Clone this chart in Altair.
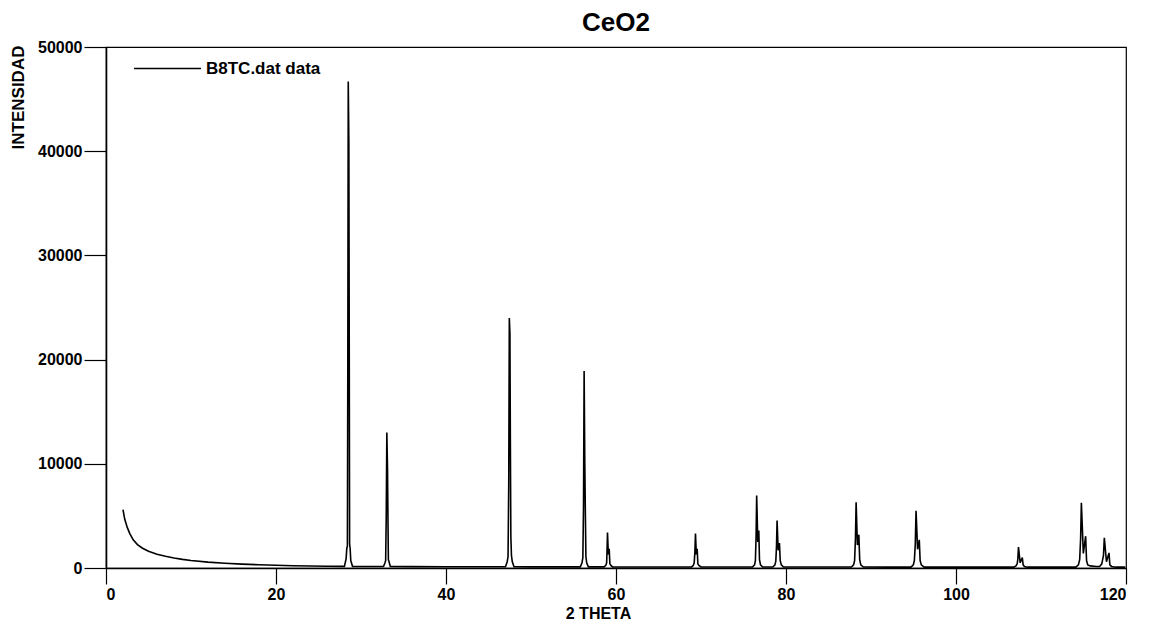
import altair as alt
import pandas as pd

# ---- data ----
two_theta = [
    2.0, 2.2, 2.5, 2.8, 3.2, 3.7, 4.3, 5.0, 6.0, 7.0, 8.0, 9.0, 10.0, 12.0, 14.0,
    16.0, 18.0, 20.0, 22.0, 24.0, 26.0, 27.8,
    28.05, 28.25, 28.33, 28.40, 28.45, 28.50, 28.57, 28.62, 28.66, 28.72, 28.80, 29.00,
    30.0, 32.6,
    32.65, 32.82, 32.90, 32.97, 33.04, 33.12, 33.18, 33.22, 33.30, 33.45,
    36.0, 40.0, 45.0, 46.9,
    47.00, 47.20, 47.30, 47.38, 47.45, 47.52, 47.57, 47.63, 47.70, 47.80, 48.00,
    50.0, 54.0,
    55.80, 56.00, 56.10, 56.18, 56.25, 56.33, 56.40, 56.46, 56.55, 56.75,
    58.60, 58.80, 58.90, 58.95, 59.00, 59.10, 59.20, 59.28, 59.40, 59.60,
    62.0, 66.0,
    68.90, 69.10, 69.20, 69.28, 69.35, 69.45, 69.55, 69.63, 69.75, 70.00,
    73.0,
    76.05, 76.30, 76.40, 76.48, 76.55, 76.68, 76.80, 76.88, 77.00, 77.25,
    78.45, 78.70, 78.80, 78.88, 78.95, 79.08, 79.23, 79.32, 79.45, 79.70,
    82.0, 86.0,
    87.70, 87.95, 88.07, 88.17, 88.25, 88.40, 88.57, 88.67, 88.80, 89.10,
    92.0,
    94.70, 94.98, 95.10, 95.21, 95.30, 95.48, 95.68, 95.78, 95.92, 96.25,
    100.0, 104.0,
    106.80, 107.05, 107.20, 107.28, 107.35, 107.55, 107.80, 107.90, 108.05, 108.40,
    111.0,
    114.10, 114.40, 114.55, 114.66, 114.75, 114.98, 115.25, 115.36, 115.50, 115.80,
    116.50,
    116.90, 117.15, 117.35, 117.45, 117.70, 118.00, 118.10, 118.30, 118.80,
    119.9,
]
intensity = [
    5600, 4700, 3900, 3300, 2700, 2250, 1900, 1600, 1320, 1120, 960, 830, 720, 560, 450,
    370, 310, 260, 220, 190, 170, 160,
    160, 900, 1900, 2100, 20000, 46700, 41000, 20000, 2300, 1900, 700, 160,
    150, 140,
    145, 500, 700, 5000, 13000, 9500, 4000, 800, 600, 150,
    130, 120, 115, 115,
    120, 600, 1100, 8000, 24000, 22500, 12500, 3000, 1200, 600, 120,
    110, 110,
    110, 500, 1000, 6000, 18900, 10000, 5000, 1100, 500, 110,
    105, 250, 500, 1800, 3400, 1300, 1850, 400, 250, 105,
    100, 100,
    100, 250, 500, 1500, 3300, 1300, 1850, 400, 250, 100,
    95,
    95, 300, 700, 3000, 6950, 2500, 3600, 800, 300, 95,
    95, 300, 650, 2000, 4550, 1700, 2400, 700, 300, 95,
    90, 90,
    90, 300, 700, 2800, 6300, 2200, 3200, 800, 300, 90,
    85,
    85, 300, 700, 2300, 5500, 1800, 2700, 700, 300, 85,
    80, 80,
    80, 200, 400, 900, 2000, 500, 1000, 300, 150, 80,
    80,
    80, 300, 800, 2800, 6250, 1400, 3050, 700, 300, 200,
    150,
    150, 400, 1200, 2900, 600, 1450, 300, 150, 80,
    80,
]
series_name = ["B8TC.dat data"]
x_ticks = [0, 20, 40, 60, 80, 100, 120]
y_ticks = [0, 10000, 20000, 30000, 40000, 50000]

df = pd.DataFrame({
    "two_theta": two_theta,
    "intensity": intensity,
    "series": series_name * len(two_theta),
})
df["order"] = range(len(df))

FONT = "Liberation Sans"

line = alt.Chart(df).mark_line(strokeWidth=1.6, clip=True, interpolate="linear").encode(
    x=alt.X(
        "two_theta:Q",
        scale=alt.Scale(domain=[0, 120], nice=False, zero=False),
        axis=alt.Axis(
            values=x_ticks, format="d", title="2 THETA", grid=False,
            tickSize=16, labelPadding=2,
            titleX=492, titleY=50, titleBaseline="alphabetic", titleAlign="center",
        ),
    ),
    y=alt.Y(
        "intensity:Q",
        scale=alt.Scale(domain=[0, 50000], nice=False),
        axis=alt.Axis(
            values=y_ticks, format="d", title="INTENSIDAD", grid=False,
            tickSize=22, labelPadding=2,
            titleX=-88, titleY=50, titleAngle=270, titleAlign="center",
            titleBaseline="middle", titleFontSize=17,
        ),
    ),
    order="order:Q",
    color=alt.Color(
        "series:N",
        scale=alt.Scale(range=["black"]),
        legend=alt.Legend(
            title=None, orient="none", legendX=27, legendY=-13, padding=0,
            symbolType="stroke", symbolSize=4489, symbolStrokeWidth=1.3,
            labelFont=FONT, labelFontSize=17, labelFontWeight="bold",
            labelColor="black", labelOffset=4,
        ),
    ),
)

chart = line.properties(
    width=1020,
    height=521,
    background="white",
    title=alt.TitleParams("CeO2", font=FONT, fontSize=26, fontWeight="bold",
                          color="black", anchor="middle", offset=-2),
    autosize=alt.AutoSizeParams(type="none"),
    padding={"left": 106, "top": 47, "right": 26, "bottom": 54},
).configure_view(
    stroke="black", strokeWidth=1.2
).configure_axis(
    labelFont=FONT, labelFontSize=16, labelFontWeight="bold", labelColor="black",
    titleFont=FONT, titleFontSize=16, titleFontWeight="bold", titleColor="black",
    domainColor="black", domainWidth=1.6, tickColor="black", tickWidth=1.2,
)

chart.save("out.html", embed_options={"renderer": "svg", "actions": False})
